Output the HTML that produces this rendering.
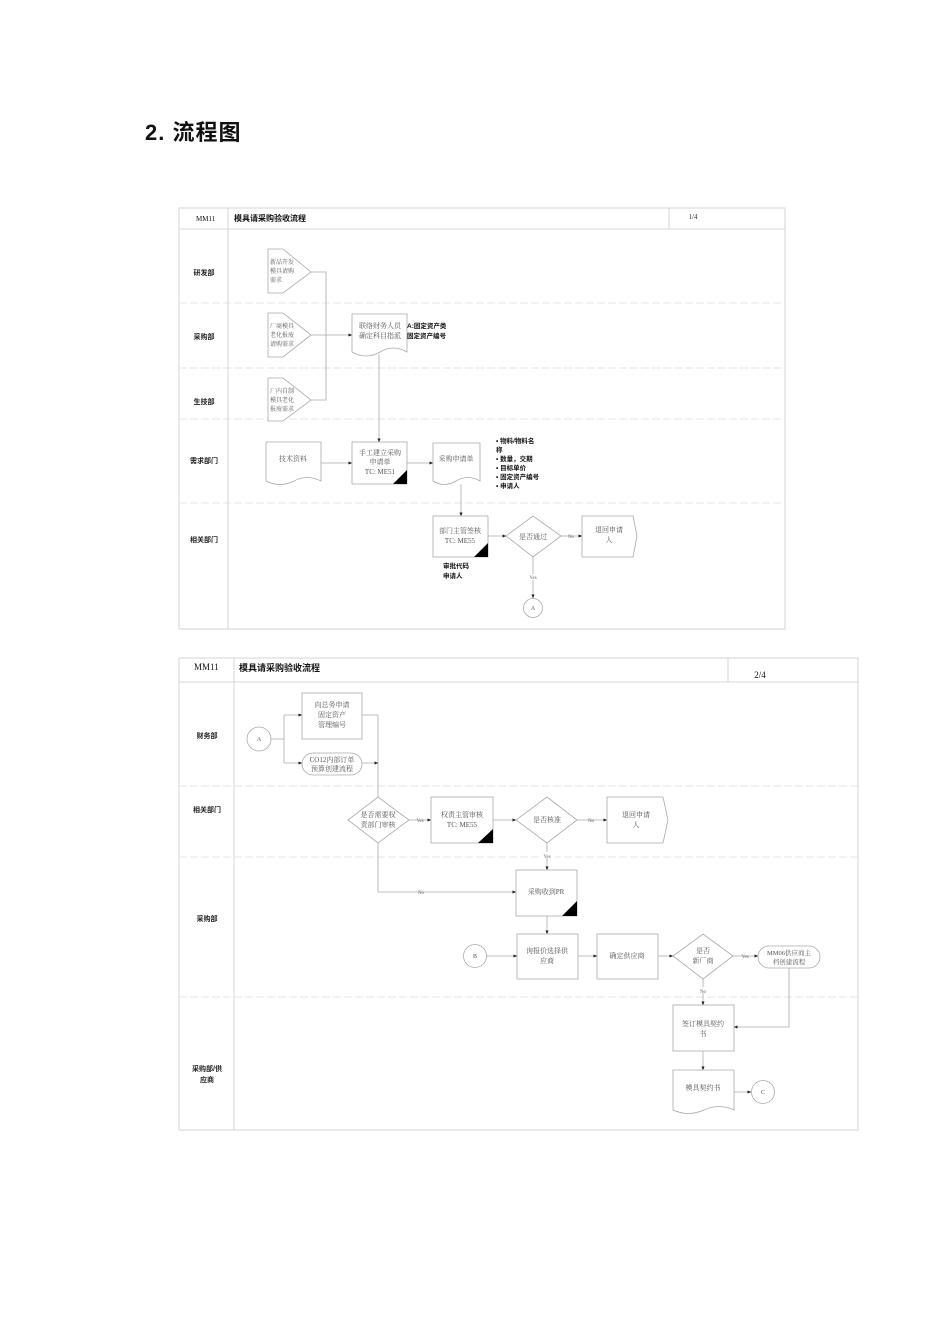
<!DOCTYPE html>
<html><head><meta charset="utf-8"><style>
html,body{margin:0;padding:0;background:#fff;}
svg{display:block;}
.t{font-family:"Liberation Serif","Noto Serif CJK SC",serif;font-size:7px;fill:#555;text-anchor:middle;}
.b{font-family:"Liberation Sans","Noto Sans CJK SC",sans-serif;font-size:7px;font-weight:bold;fill:#111;}
.l{font-family:"Liberation Sans","Noto Sans CJK SC",sans-serif;font-size:7px;font-weight:bold;fill:#222;text-anchor:middle;}
.s{font-family:"Liberation Serif",serif;font-size:5px;fill:#666;text-anchor:middle;}
.sh{fill:#fff;stroke:#aaa;stroke-width:0.8;}
.c{fill:none;stroke:#aaa;stroke-width:0.8;}
.g{stroke:#ccc;stroke-width:0.8;fill:none;}
.d{stroke:#ddd;stroke-width:0.8;stroke-dasharray:8 3;fill:none;}
</style></head><body>
<svg width="950" height="1344" viewBox="0 0 950 1344" xmlns="http://www.w3.org/2000/svg">
<defs><marker id="a" markerWidth="5" markerHeight="5" refX="4.5" refY="2.5" orient="auto"><path d="M0,0.5 L5,2.5 L0,4.5z" fill="#222"/></marker></defs>
<text x="145" y="140" style="font-family:'Liberation Sans','Noto Sans CJK SC',sans-serif;font-size:22px;font-weight:bold;fill:#111;letter-spacing:1px">2. 流程图</text>

<!-- Diagram 1 -->
<rect x="179" y="208" width="606" height="421" class="g"/>
<line x1="179" y1="229" x2="785" y2="229" class="g"/>
<line x1="228" y1="208" x2="228" y2="629" class="g"/>
<line x1="669" y1="208" x2="669" y2="229" class="g"/>
<line x1="179" y1="303" x2="785" y2="303" class="d"/>
<line x1="179" y1="368" x2="785" y2="368" class="d"/>
<line x1="179" y1="419" x2="785" y2="419" class="d"/>
<line x1="179" y1="503" x2="785" y2="503" class="d"/>
<text x="196" y="221" class="b" style="font-weight:normal;font-family:'Liberation Serif',serif">MM11</text>
<text x="234" y="221" class="b" style="font-size:8px">模具请采购验收流程</text>
<text x="693" y="219" class="t" style="font-size:7px;fill:#333">1/4</text>
<text x="204" y="275" class="l">研发部</text>
<text x="204" y="339" class="l">采购部</text>
<text x="204" y="404" class="l">生技部</text>
<text x="204" y="463" class="l">需求部门</text>
<text x="204" y="542" class="l">相关部门</text>

<path d="M268,249 H283 L311,272 L283,293 H268Z" class="sh"/>
<text x="270" y="264" class="t" style="text-anchor:start;font-size:6px">新品开发</text>
<text x="270" y="273" class="t" style="text-anchor:start;font-size:6px">模具请购</text>
<text x="270" y="282" class="t" style="text-anchor:start;font-size:6px">需求</text>
<path d="M268,313 H283 L311,335 L283,357 H268Z" class="sh"/>
<text x="270" y="328" class="t" style="text-anchor:start;font-size:6px">厂商模具</text>
<text x="270" y="337" class="t" style="text-anchor:start;font-size:6px">老化报废</text>
<text x="270" y="346" class="t" style="text-anchor:start;font-size:6px">请购需求</text>
<path d="M268,378 H283 L311,400 L283,421 H268Z" class="sh"/>
<text x="270" y="393" class="t" style="text-anchor:start;font-size:6px">厂内自制</text>
<text x="270" y="402" class="t" style="text-anchor:start;font-size:6px">模具老化</text>
<text x="270" y="411" class="t" style="text-anchor:start;font-size:6px">报废需求</text>
<path d="M311,272 H326 V400 H311 M311,335 H352" class="c" marker-end="url(#a)"/>

<path d="M352,314 H407 V352 Q393,344 380,352 Q366,360 352,352Z" class="sh"/>
<text x="380" y="328" class="t">联络财务人员</text>
<text x="380" y="338" class="t">确定科目指派</text>
<text x="407" y="328" class="b" style="font-size:6.5px">A:固定资产类</text>
<text x="407" y="338" class="b" style="font-size:6.5px">固定资产编号</text>
<path d="M379,354 V442" class="c" marker-end="url(#a)"/>

<path d="M266,442 H321 V481 Q307,474 294,481 Q280,488 266,481Z" class="sh"/>
<text x="293" y="461" class="t">技术资料</text>
<path d="M321,463 H352" class="c" marker-end="url(#a)"/>
<rect x="352" y="442" width="55" height="42" class="sh"/>
<path d="M393,484 L407,470 V484Z" fill="#000"/>
<text x="380" y="455" class="t">手工建立采购</text>
<text x="380" y="464" class="t">申请单</text>
<text x="380" y="474" class="t">TC:  ME51</text>
<path d="M407,463 H433" class="c" marker-end="url(#a)"/>
<path d="M433,443 H480 V481 Q468,474 456,481 Q444,488 433,481Z" class="sh"/>
<text x="456" y="461" class="t">采购申请单</text>
<g class="b" style="font-size:6.5px">
<text x="496" y="443">•  物料/物料名</text>
<text x="496" y="452">称</text>
<text x="496" y="461">•  数量，交期</text>
<text x="496" y="470">•  目标单价</text>
<text x="496" y="479">•  固定资产编号</text>
<text x="496" y="488">•  申请人</text>
</g>
<path d="M461,484 V516" class="c" marker-end="url(#a)"/>
<rect x="433" y="516" width="55" height="41" class="sh"/>
<path d="M474,557 L488,543 V557Z" fill="#000"/>
<text x="460" y="533" class="t">部门主管签核</text>
<text x="460" y="543" class="t">TC:  ME55</text>
<text x="443" y="568" class="b" style="font-size:6.5px">审批代码</text>
<text x="443" y="578" class="b" style="font-size:6.5px">申请人</text>
<path d="M488,536 H506" class="c" marker-end="url(#a)"/>
<path d="M533,516 L561,536 L533,557 L506,536Z" class="sh"/>
<text x="533" y="539" class="t">是否通过</text>
<path d="M561,536 H582" class="c" marker-end="url(#a)"/>
<text x="571" y="538" class="s">No</text>
<path d="M582,516 H633 L637,536 L633,557 H582Z" class="sh"/>
<text x="609" y="532" class="t">退回申请</text>
<text x="609" y="542" class="t">人</text>
<path d="M533,557 V598" class="c" marker-end="url(#a)"/>
<rect x="525" y="574" width="16" height="6" fill="#fff"/>
<text x="533" y="579" class="s">Yes</text>
<circle cx="533" cy="608" r="9.5" class="sh"/>
<text x="533" y="610" class="t" style="font-size:6px">A</text>

<!-- Diagram 2 -->
<rect x="179" y="658" width="679" height="472" class="g"/>
<line x1="179" y1="682" x2="858" y2="682" class="g"/>
<line x1="234" y1="658" x2="234" y2="1130" class="g"/>
<line x1="728" y1="658" x2="728" y2="682" class="g"/>
<line x1="179" y1="786" x2="858" y2="786" class="d"/>
<line x1="179" y1="857" x2="858" y2="857" class="d"/>
<line x1="179" y1="997" x2="858" y2="997" class="d"/>
<text x="194" y="670" class="b" style="font-family:'Liberation Serif',serif;font-weight:normal;font-size:9px">MM11</text>
<text x="239" y="671" class="b" style="font-size:9px">模具请采购验收流程</text>
<text x="760" y="678" class="b" style="font-family:'Liberation Serif',serif;font-weight:normal;font-size:9px;text-anchor:middle">2/4</text>
<text x="207" y="738" class="l">财务部</text>
<text x="207" y="812" class="l">相关部门</text>
<text x="207" y="921" class="l">采购部</text>
<text x="207" y="1071" class="l">采购部/供</text>
<text x="207" y="1082" class="l">应商</text>

<circle cx="259" cy="739" r="12" class="sh"/>
<text x="259" y="741" class="t" style="font-size:6px">A</text>
<path d="M271,739 H284 M284,715 V763" class="c"/>
<path d="M284,715 H302" class="c" marker-end="url(#a)"/>
<path d="M284,763 H302" class="c" marker-end="url(#a)"/>
<rect x="302" y="693" width="60" height="46" class="sh"/>
<text x="332" y="707" class="t">向总务申请</text>
<text x="332" y="717" class="t">固定资产</text>
<text x="332" y="727" class="t">管理编号</text>
<rect x="302" y="753" width="60" height="22" rx="11" class="sh"/>
<text x="332" y="762" class="t">CO12内部订单</text>
<text x="332" y="771" class="t">预算创建流程</text>
<path d="M362,715 H378 V797 M362,763 H378" class="c" marker-end="url(#a)"/>

<path d="M378,797 L409,820 L378,843 L348,820Z" class="sh"/>
<text x="378" y="817" class="t">是否需要权</text>
<text x="378" y="827" class="t">责部门审核</text>
<path d="M409,820 H431" class="c" marker-end="url(#a)"/>
<text x="420" y="822" class="s">Yes</text>
<rect x="431" y="797" width="62" height="46" class="sh"/>
<path d="M478,843 L493,829 V843Z" fill="#000"/>
<text x="462" y="817" class="t">权责主管审核</text>
<text x="462" y="827" class="t">TC:    ME55</text>
<path d="M493,820 H516" class="c" marker-end="url(#a)"/>
<path d="M547,797 L577,820 L547,843 L516,820Z" class="sh"/>
<text x="547" y="822" class="t">是否核准</text>
<path d="M577,820 H607" class="c" marker-end="url(#a)"/>
<text x="591" y="822" class="s">No</text>
<path d="M607,797 H663 L668,820 L663,843 H607Z" class="sh"/>
<text x="636" y="817" class="t">退回申请</text>
<text x="636" y="827" class="t">人</text>
<path d="M547,843 V870" class="c" marker-end="url(#a)"/>
<rect x="539" y="852" width="16" height="6" fill="#fff"/>
<text x="547" y="858" class="s">Yes</text>
<path d="M378,843 V892 H516" class="c" marker-end="url(#a)"/>
<text x="421" y="894" class="s">No</text>
<rect x="516" y="870" width="61" height="46" class="sh"/>
<path d="M562,916 L577,901 V916Z" fill="#000"/>
<text x="546" y="894" class="t">采购收到PR</text>
<path d="M547,916 V934" class="c" marker-end="url(#a)"/>

<circle cx="475" cy="956" r="11.5" class="sh"/>
<text x="475" y="958" class="t" style="font-size:6px">B</text>
<path d="M486,956 H517" class="c" marker-end="url(#a)"/>
<rect x="517" y="934" width="61" height="45" class="sh"/>
<text x="547" y="953" class="t">询报价选择供</text>
<text x="547" y="963" class="t">应商</text>
<path d="M578,956 H597" class="c" marker-end="url(#a)"/>
<rect x="597" y="934" width="61" height="45" class="sh"/>
<text x="627" y="958" class="t">确定供应商</text>
<path d="M658,956 H673" class="c" marker-end="url(#a)"/>
<path d="M703,934 L733,956 L703,979 L673,956Z" class="sh"/>
<text x="703" y="953" class="t">是否</text>
<text x="703" y="963" class="t">新厂商</text>
<path d="M733,956 H758" class="c" marker-end="url(#a)"/>
<text x="745" y="958" class="s">Yes</text>
<rect x="758" y="946" width="62" height="22" rx="11" class="sh"/>
<text x="789" y="955" class="t" style="font-size:6.5px">MM06供应商主</text>
<text x="789" y="964" class="t" style="font-size:6.5px">档创建流程</text>
<path d="M703,979 V1005" class="c" marker-end="url(#a)"/>
<rect x="695" y="987" width="16" height="6" fill="#fff"/>
<text x="703" y="993" class="s">No</text>
<path d="M789,968 V1027 H734" class="c" marker-end="url(#a)"/>
<rect x="673" y="1005" width="61" height="46" class="sh"/>
<text x="703" y="1026" class="t">签订模具契约</text>
<text x="703" y="1036" class="t">书</text>
<path d="M703,1051 V1070" class="c" marker-end="url(#a)"/>
<path d="M673,1070 H734 V1110 Q719,1103 704,1110 Q688,1117 673,1110Z" class="sh"/>
<text x="703" y="1090" class="t">模具契约书</text>
<path d="M734,1092 H751" class="c" marker-end="url(#a)"/>
<circle cx="763" cy="1092" r="11.5" class="sh"/>
<text x="763" y="1094" class="t" style="font-size:6px">C</text>
</svg>
</body></html>
